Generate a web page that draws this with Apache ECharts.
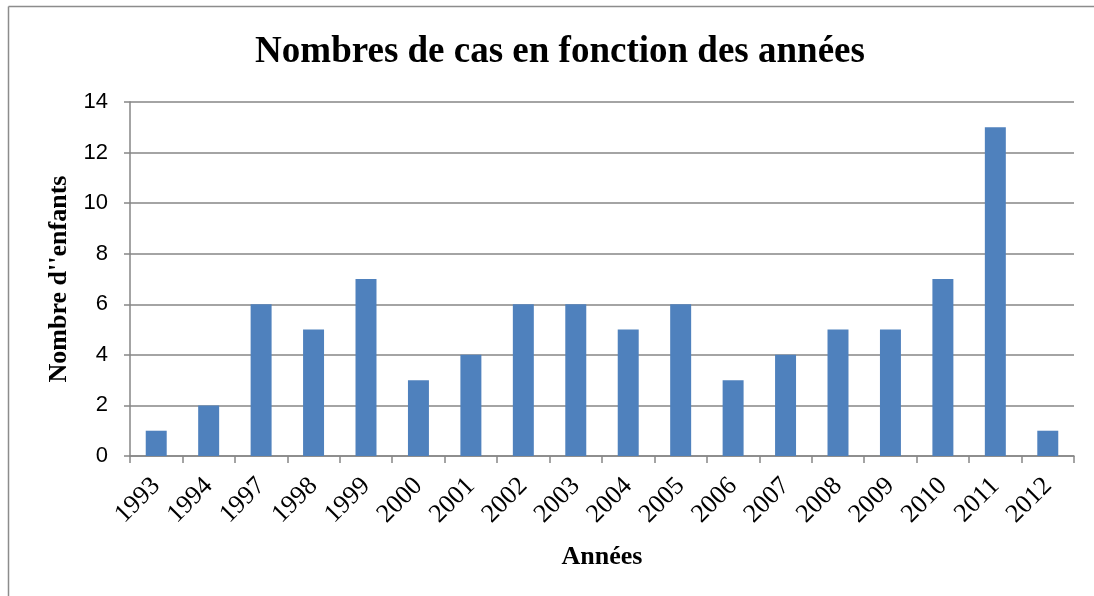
<!DOCTYPE html>
<html><head><meta charset="utf-8">
<script src="https://cdn.jsdelivr.net/npm/echarts@6/dist/echarts.min.js"></script>
<style>html,body{margin:0;padding:0;background:#fff}#c{width:1094px;height:596px}</style>
</head><body><div id="c"></div>
<script>
const categories = ['1993','1994','1997','1998','1999','2000','2001','2002','2003','2004','2005','2006','2007','2008','2009','2010','2011','2012'];
const values = [1,2,6,5,7,3,4,6,6,5,6,3,4,5,5,7,13,1];
const titleText = 'Nombres de cas en fonction des années';
const yName = "Nombre d''enfants";
const xName = 'Années';

const chart = echarts.init(document.getElementById('c'));
chart.setOption({
  backgroundColor: '#fff',
  animation: false,
  graphic: [
    {type:'line', shape:{x1:8.5,y1:6.5,x2:1094,y2:6.5}, style:{stroke:'#8c8c8c', lineWidth:1.5}},
    {type:'line', shape:{x1:8.5,y1:6.5,x2:8.5,y2:596}, style:{stroke:'#8c8c8c', lineWidth:1.5}}
  ],
  title: {
    text: titleText, left: 555, top: 29, textAlign: 'center',
    textStyle: {fontFamily: 'Liberation Serif', fontWeight: 'bold', fontSize: 37, color: '#000'}
  },
  grid: {left: 130, right: 20, top: 102, bottom: 140, containLabel: false},
  xAxis: {
    type: 'category', data: categories,
    name: xName, nameLocation: 'middle', nameGap: 88,
    nameTextStyle: {fontFamily: 'Liberation Serif', fontWeight: 'bold', fontSize: 26, color: '#000'},
    axisLine: {lineStyle: {color: '#868686', width: 1.5}},
    axisTick: {show: true, length: 7, lineStyle: {color: '#868686', width: 1.5}},
    axisLabel: {rotate: 45, fontFamily: 'Liberation Serif', fontSize: 26, color: '#000', margin: 26, interval: 0}
  },
  yAxis: {
    type: 'value', min: 0, max: 14, interval: 2,
    name: yName, nameLocation: 'middle', nameGap: 56,
    nameTextStyle: {fontFamily: 'Liberation Serif', fontWeight: 'bold', fontSize: 26, color: '#000'},
    axisLine: {show: true, lineStyle: {color: '#868686', width: 1.5}},
    axisTick: {show: true, length: 6, lineStyle: {color: '#868686', width: 1.5}},
    axisLabel: {fontFamily: 'Liberation Sans', fontSize: 22, color: '#000', margin: 22},
    splitLine: {lineStyle: {color: '#868686', width: 1.5}}
  },
  series: [{
    type: 'bar', data: values, barWidth: '40%',
    itemStyle: {color: '#4F81BD'}
  }]
});
</script></body></html>
